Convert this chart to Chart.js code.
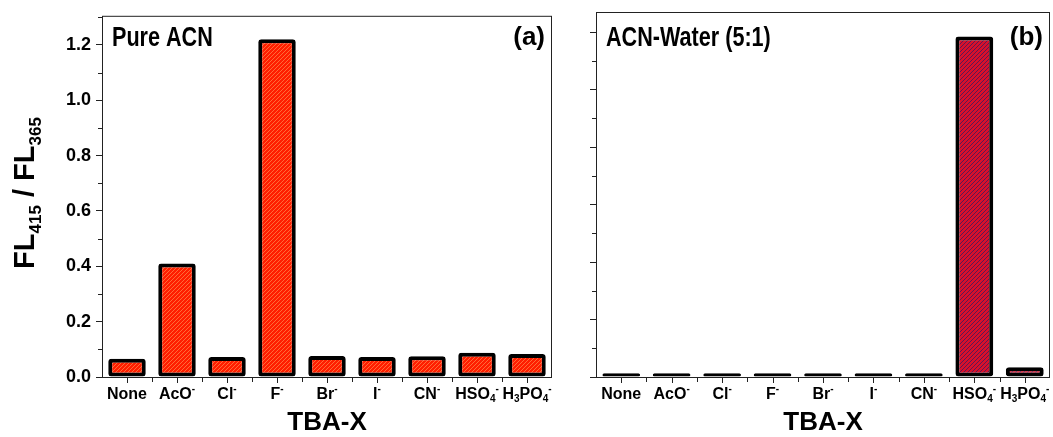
<!DOCTYPE html>
<html>
<head>
<meta charset="utf-8">
<script src="https://cdn.jsdelivr.net/npm/chart.js@4.4.0/dist/chart.umd.min.js"></script>
<style>
  html, body { margin: 0; padding: 0; background: #fff; }
  #wrapA { position: absolute; left: 0; top: 0; width: 560px; height: 437px; }
  #wrapB { position: absolute; left: 560px; top: 0; width: 493px; height: 437px; }
</style>
</head>
<body>
<div id="wrapA"><canvas id="chartA" width="560" height="437"></canvas></div>
<div id="wrapB"><canvas id="chartB" width="493" height="437"></canvas></div>
<script>
// anion labels: ^x = superscript char, _x = subscript char
const anions = ['None', 'AcO^-', 'Cl^-', 'F^-', 'Br^-', 'I^-', 'CN^-', 'HSO_4^-', 'H_3PO_4^-'];
const ratioPureACN = [0.066, 0.41, 0.072, 1.22, 0.076, 0.072, 0.075, 0.088, 0.083];
const ratioACNWater = [0.013, 0.013, 0.013, 0.013, 0.013, 0.013, 0.013, 1.185, 0.034];
const yTicks = [0.0, 0.2, 0.4, 0.6, 0.8, 1.0, 1.2];

const FONT = '"Liberation Sans", Arial, sans-serif';

function hatch(base, line) {
    const c = document.createElement('canvas');
    c.width = c.height = 4;
    const g = c.getContext('2d');
    g.fillStyle = base;
    g.fillRect(0, 0, 4, 4);
    g.strokeStyle = line;
    g.lineWidth = 1;
    g.beginPath();
    g.moveTo(-1, 5); g.lineTo(5, -1);
    g.moveTo(-1, 1); g.lineTo(1, -1);
    g.moveTo(3, 5); g.lineTo(5, 3);
    g.stroke();
    return g.createPattern(c, 'repeat');
}

// split "HSO_4^-" into pieces with a vertical shift
function pieces(text) {
    const out = [];
    for (let i = 0; i < text.length; i++) {
        const ch = text[i];
        if ((ch === '^' || ch === '_') && i + 1 < text.length) {
            out.push({ t: text[i + 1], k: ch === '^' ? 'sup' : 'sub' });
            i++;
        } else {
            const last = out[out.length - 1];
            if (last && last.k === 'n') last.t += ch; else out.push({ t: ch, k: 'n' });
        }
    }
    return out;
}

function drawRich(ctx, text, cx, cy, size) {
    const parts = pieces(text);
    const small = Math.round(size * 0.6);
    let w = 0;
    parts.forEach(p => {
        ctx.font = 'bold ' + (p.k === 'n' ? size : small) + 'px ' + FONT;
        p.w = ctx.measureText(p.t).width;
        w += p.w;
    });
    let x = cx - w / 2;
    ctx.textBaseline = 'alphabetic';
    ctx.textAlign = 'left';
    const base = cy + size * 0.36;
    parts.forEach(p => {
        ctx.font = 'bold ' + (p.k === 'n' ? size : small) + 'px ' + FONT;
        let yy = base;
        if (p.k === 'sup') yy = base - size * 0.45;
        if (p.k === 'sub') yy = base + size * 0.22;
        ctx.fillText(p.t, x, yy);
        x += p.w;
    });
    return w;
}

const decor = {
    id: 'decor',
    afterDraw(chart, args, o) {
        const { ctx, chartArea: a, scales: { x, y } } = chart;
        ctx.save();
        ctx.strokeStyle = '#222';
        ctx.fillStyle = '#000';
        ctx.lineWidth = 1;
        // frame
        ctx.strokeRect(a.left + 0.5, a.top + 0.5, a.right - a.left - 1, a.bottom - a.top);
        // minor y ticks
        ctx.beginPath();
        for (let i = 0; i < yTicks.length; i++) {
            const v = yTicks[i] + 0.1;
            if (v > y.max) break;
            const py = Math.round(y.getPixelForValue(v)) + 0.5;
            ctx.moveTo(a.left - 4, py);
            ctx.lineTo(a.left, py);
        }
        // x ticks: centres and boundaries
        const n = anions.length;
        const half = (x.getPixelForValue(1) - x.getPixelForValue(0)) / 2;
        for (let i = 0; i < n; i++) {
            const px = Math.round(x.getPixelForValue(i)) + 0.5;
            ctx.moveTo(px, a.bottom);
            ctx.lineTo(px, a.bottom + 6);
            const bx = Math.round(x.getPixelForValue(i) - half) + 0.5;
            if (i > 0) {
                ctx.moveTo(bx, a.bottom);
                ctx.lineTo(bx, a.bottom + 5);
            }
        }
        ctx.stroke();
        // x tick labels
        anions.forEach((lab, i) => drawRich(ctx, lab, x.getPixelForValue(i), a.bottom + 16, 16));
        // x axis title
        ctx.font = 'bold 26px ' + FONT;
        ctx.textAlign = 'center';
        ctx.textBaseline = 'middle';
        ctx.fillText('TBA-X', (a.left + a.right) / 2, 423);
        // y axis title
        if (o.yTitle) {
            ctx.save();
            ctx.translate(24, 193);
            ctx.rotate(-Math.PI / 2);
            drawRich(ctx, o.yTitle, 0, 0, 29);
            ctx.restore();
        }
        // panel title (narrow)
        ctx.save();
        ctx.translate(a.left + 10, 46);
        ctx.scale(0.8, 1);
        ctx.font = 'bold 27px ' + FONT;
        ctx.textAlign = 'left';
        ctx.textBaseline = 'alphabetic';
        ctx.fillText(o.title, 0, 0);
        ctx.restore();
        // panel tag
        ctx.font = 'bold 26px ' + FONT;
        ctx.textAlign = 'right';
        ctx.textBaseline = 'alphabetic';
        ctx.fillText(o.tag, a.right - 7, 45);
        ctx.restore();
    }
};

function makeChart(id, values, fill, cfg) {
    return new Chart(document.getElementById(id), {
        type: 'bar',
        data: {
            labels: anions,
            datasets: [{
                data: values,
                backgroundColor: fill,
                borderColor: '#000',
                borderWidth: 4,
                borderRadius: 3,
                borderSkipped: false,
                barPercentage: 0.75,
                categoryPercentage: 1
            }]
        },
        options: {
            responsive: false,
            animation: false,
            layout: { padding: { top: cfg.top, right: cfg.right, left: 0, bottom: 0 } },
            plugins: {
                legend: { display: false },
                tooltip: { enabled: false },
                decor: { title: cfg.title, tag: cfg.tag, yTitle: cfg.yTitle }
            },
            scales: {
                x: {
                    offset: true,
                    grid: { display: false },
                    border: { display: false },
                    ticks: { display: false },
                    afterFit(s) { s.height = 60; }
                },
                y: {
                    min: 0,
                    max: cfg.yMax,
                    afterBuildTicks(s) { s.ticks = yTicks.map(v => ({ value: v })); },
                    grid: { drawOnChartArea: false, drawTicks: true, tickLength: 6, color: '#222' },
                    border: { display: false },
                    ticks: {
                        display: cfg.showY,
                        color: '#000',
                        padding: 5,
                        font: { family: FONT, size: 18, weight: 'bold' },
                        callback: v => v.toFixed(1)
                    },
                    afterFit(s) { s.width = cfg.yWidth; }
                }
            }
        },
        plugins: [decor]
    });
}

makeChart('chartA', ratioPureACN, hatch('#ff1e00', '#ff6a38'), {
    top: 14, right: 8, yMax: 1.305, showY: true, yWidth: 102,
    title: 'Pure ACN', tag: '(a)', yTitle: 'FL_4_1_5 / FL_3_6_5'
});
makeChart('chartB', ratioACNWater, hatch('#d8102a', '#5a1858'), {
    top: 12, right: 3, yMax: 1.27, showY: false, yWidth: 36,
    title: 'ACN-Water (5:1)', tag: '(b)', yTitle: null
});
</script>
</body>
</html>
